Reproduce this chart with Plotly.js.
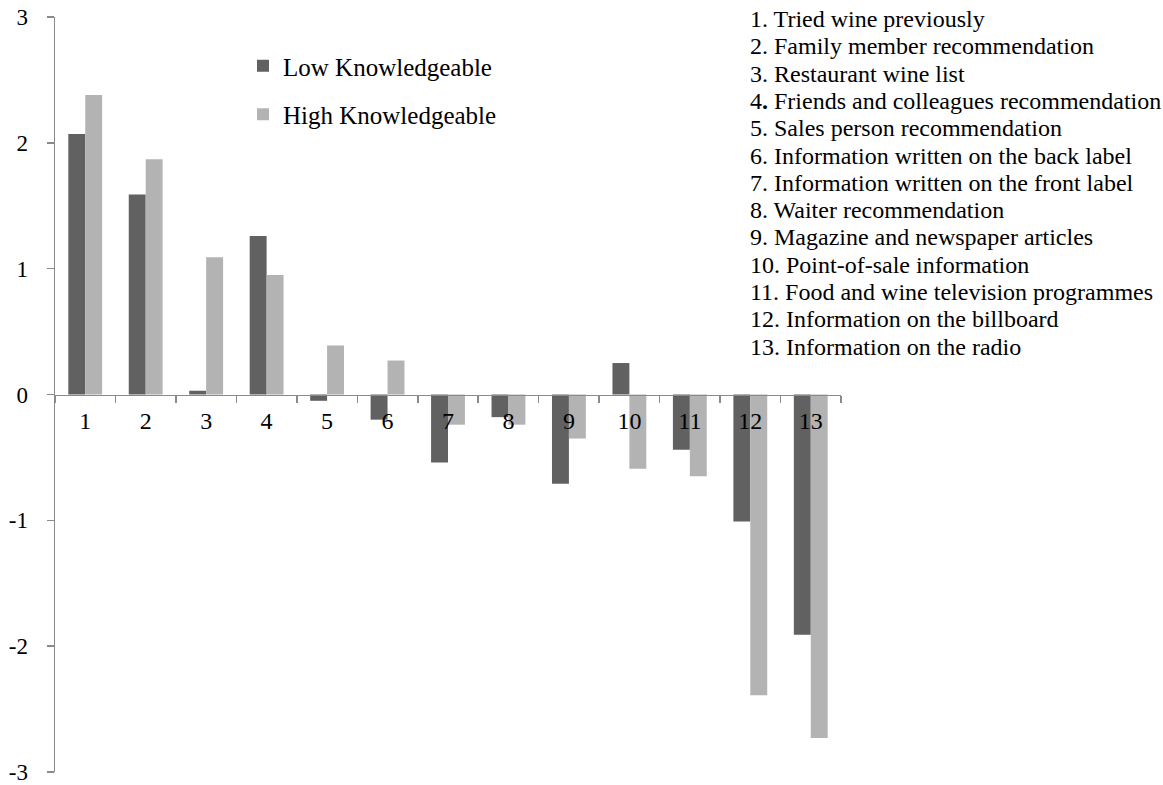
<!DOCTYPE html>
<html>
<head>
<meta charset="utf-8">
<script src="https://cdn.plot.ly/plotly-3.0.1.min.js"></script>
<style>html,body{margin:0;padding:0;background:#fff;}#chart{width:1163px;height:785px;}</style>
</head>
<body>
<div id="chart"></div>
<script>
const categories = ["1","2","3","4","5","6","7","8","9","10","11","12","13"];
const lowKnowledgeable = [2.07, 1.59, 0.03, 1.26, -0.05, -0.20, -0.54, -0.18, -0.71, 0.25, -0.44, -1.01, -1.91];
const highKnowledgeable = [2.38, 1.87, 1.09, 0.95, 0.39, 0.27, -0.24, -0.24, -0.35, -0.59, -0.65, -2.39, -2.73];
const seriesNames = ["Low Knowledgeable", "High Knowledgeable"];
const yTickVals = [-3, -2, -1, 0, 1, 2, 3];
const yTickText = ["-3", "-2", "-1", "0", "1", "2", "3"];
const itemLabels = [
  "1. Tried wine previously",
  "2. Family member recommendation",
  "3. Restaurant wine list",
  "4<b>.</b> Friends and colleagues recommendation",
  "5. Sales person recommendation",
  "6. Information written on the back label",
  "7. Information written on the front label",
  "8. Waiter recommendation",
  "9. Magazine and newspaper articles",
  "10. Point-of-sale information",
  "11. Food and wine television programmes",
  "12. Information on the billboard",
  "13. Information on the radio"
];

const FONT = 'Liberation Serif, Times New Roman, Times, serif';
const W = 1163, H = 785;
const M = {l: 55, r: 322, t: 17, b: 13};
const plotH = H - M.t - M.b;
const plotW = W - M.l - M.r;

const traces = [
  {type: 'bar', name: seriesNames[0], x: categories, y: lowKnowledgeable,
   marker: {color: '#616161'}, legendgroup: 'a', hoverinfo: 'x+y'},
  {type: 'bar', name: seriesNames[1], x: categories, y: highKnowledgeable,
   marker: {color: '#b3b3b3'}, legendgroup: 'b', hoverinfo: 'x+y'}
];

const listTop = 19, listStep = 27.3, listLeft = 748;
const annotations = itemLabels.map((t, i) => ({
  xref: 'paper', yref: 'paper',
  x: (listLeft - M.l) / plotW, xanchor: 'left',
  y: 1 - (listTop + i * listStep - M.t) / plotH, yanchor: 'middle',
  text: t, showarrow: false, align: 'left',
  font: {family: FONT, size: 24, color: '#000'}
}));

const layout = {
  width: W, height: H,
  margin: M,
  paper_bgcolor: '#fff', plot_bgcolor: '#fff',
  font: {family: FONT, color: '#000', size: 24},
  barmode: 'group', bargap: 0.44, bargroupgap: 0,
  showlegend: true,
  legend: {
    x: (243 - M.l) / plotW, xanchor: 'left',
    y: 1 - (43 - M.t) / plotH, yanchor: 'top',
    font: {family: FONT, size: 25, color: '#000'},
    bgcolor: 'rgba(0,0,0,0)', borderwidth: 0,
    traceorder: 'grouped', tracegroupgap: 13
  },
  xaxis: {
    type: 'category',
    anchor: 'free', position: 0.5,
    showline: true, linecolor: '#8a8a8a', linewidth: 1.5,
    ticks: 'outside', tickson: 'boundaries', ticklen: 7, tickcolor: '#8a8a8a', tickwidth: 1.5,
    showgrid: false, zeroline: false,
    tickfont: {family: FONT, size: 24, color: '#000'},
    ticklabelstandoff: 4,
    fixedrange: true
  },
  yaxis: {
    range: [-3, 3],
    tickmode: 'array', tickvals: yTickVals, ticktext: yTickText,
    showline: true, linecolor: '#8a8a8a', linewidth: 1.5,
    ticks: 'outside', ticklen: 7, tickcolor: '#8a8a8a', tickwidth: 1.5,
    showgrid: false, zeroline: false,
    tickfont: {family: FONT, size: 23, color: '#000'},
    ticklabelstandoff: 14,
    ticklabeloverflow: 'allow',
    fixedrange: true
  },
  annotations: annotations
};

Plotly.newPlot('chart', traces, layout, {displayModeBar: false, staticPlot: true});
</script>
</body>
</html>
